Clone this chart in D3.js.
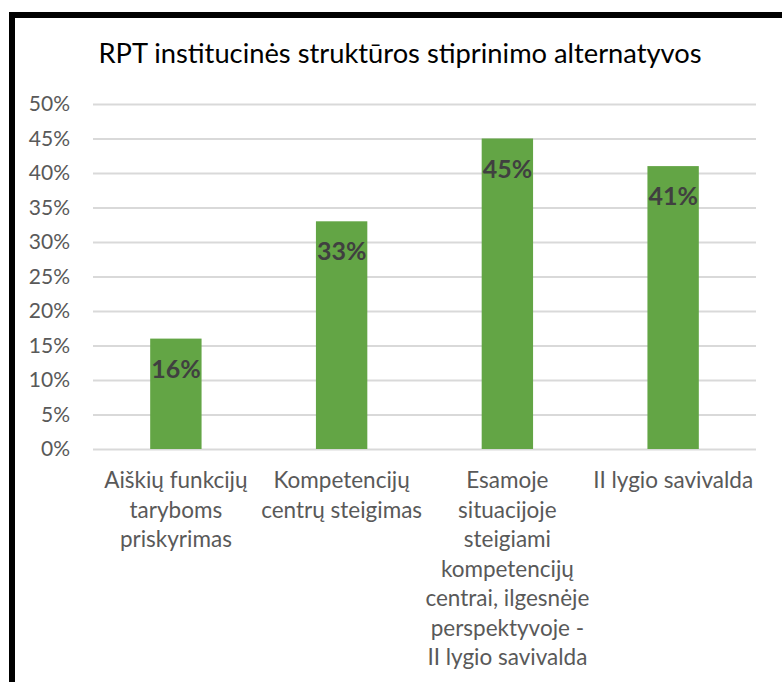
<!DOCTYPE html>
<html>
<head>
<meta charset="utf-8">
<script src="https://cdn.jsdelivr.net/npm/d3@7"></script>
<style>
  body { margin: 0; background: #fff; }
  svg { display: block; }
</style>
</head>
<body>
<svg id="BarChart"></svg>
<script>
// chart values
var categories = [
    "Aiškių funkcijų\ntaryboms\npriskyrimas",
    "Kompetencijų\ncentrų steigimas",
    "Esamoje\nsituacijoje\nsteigiami\nkompetencijų\ncentrai, ilgesnėje\nperspektyvoje -\nII lygio savivalda",
    "II lygio savivalda"
]
var values = [0.16, 0.33, 0.45, 0.41]
var yTicks = [0, 0.05, 0.10, 0.15, 0.20, 0.25, 0.30, 0.35, 0.40, 0.45, 0.50]
var title = "RPT institucinės struktūros stiprinimo alternatyvos"

var dimensions = {
    width: 782,
    height: 682,
    margin: {
        top: 104,
        bottom: 233,
        left: 93,
        right: 26
    }
}

var svg = d3.select("#BarChart")
            .attr("width", dimensions.width)
            .attr("height", dimensions.height)

// outer frame (cut off on the right and bottom)
svg.append("rect")
   .attr("x", 12)
   .attr("y", 15)
   .attr("width", 900)
   .attr("height", 900)
   .attr("fill", "none")
   .attr("stroke", "#000")
   .attr("stroke-width", 6)

var xScale = d3.scaleBand()
               .domain(categories)
               .range([dimensions.margin.left, dimensions.width - dimensions.margin.right])
               .paddingInner(0.69)
               .paddingOuter(0.345)

var yScale = d3.scaleLinear()
               .domain([0, 0.5])
               .range([dimensions.height - dimensions.margin.bottom, dimensions.margin.top])

// gridlines + y labels
var yAxisGen = d3.axisLeft(yScale)
                 .tickValues(yTicks)
                 .tickFormat(d3.format(".0%"))
                 .tickSize(-(dimensions.width - dimensions.margin.left - dimensions.margin.right))
                 .tickPadding(23)

var yAxis = svg.append("g")
               .attr("transform", `translate(${dimensions.margin.left}, 0)`)
               .call(yAxisGen)

yAxis.select(".domain").remove()
yAxis.selectAll(".tick line")
     .attr("stroke", "#d9d9d9")
     .attr("stroke-width", 2)
yAxis.selectAll(".tick text")
     .attr("fill", "#595959")
     .style("font-family", "Lato, 'Open Sans', sans-serif")
     .style("font-size", "21px")

// bars
svg.append("g")
   .selectAll("rect")
   .data(values)
   .enter()
   .append("rect")
   .attr("x", (d, i) => xScale(categories[i]))
   .attr("y", d => yScale(d))
   .attr("width", xScale.bandwidth())
   .attr("height", d => yScale(0) - yScale(d))
   .attr("fill", "#63a545")

// value labels inside end
svg.append("g")
   .selectAll("text")
   .data(values)
   .enter()
   .append("text")
   .attr("x", (d, i) => xScale(categories[i]) + xScale.bandwidth() / 2)
   .attr("y", d => yScale(d) + 39)
   .attr("text-anchor", "middle")
   .attr("fill", "#404040")
   .style("font-family", "Lato, 'Open Sans', sans-serif")
   .style("font-weight", "bold")
   .style("font-size", "25px")
   .text(d => d3.format(".0%")(d))

// category labels
var catLabels = svg.append("g")
                   .selectAll("text")
                   .data(categories)
                   .enter()
                   .append("text")
                   .attr("x", d => xScale(d) + xScale.bandwidth() / 2)
                   .attr("y", 488)
                   .attr("text-anchor", "middle")
                   .attr("fill", "#595959")
                   .style("font-family", "Lato, 'Open Sans', sans-serif")
                   .style("font-size", "22.5px")

catLabels.selectAll("tspan")
         .data(d => d.split("\n"))
         .enter()
         .append("tspan")
         .attr("x", function() { return d3.select(this.parentNode).attr("x") })
         .attr("dy", (d, i) => i === 0 ? 0 : 29.5)
         .text(d => d)

svg.append("text")
   .attr("x", 400)
   .attr("y", 63)
   .attr("text-anchor", "middle")
   .attr("fill", "#000")
   .style("font-family", "Lato, 'Open Sans', sans-serif")
   .style("font-size", "27.3px")
   .text(title)
</script>
</body>
</html>
